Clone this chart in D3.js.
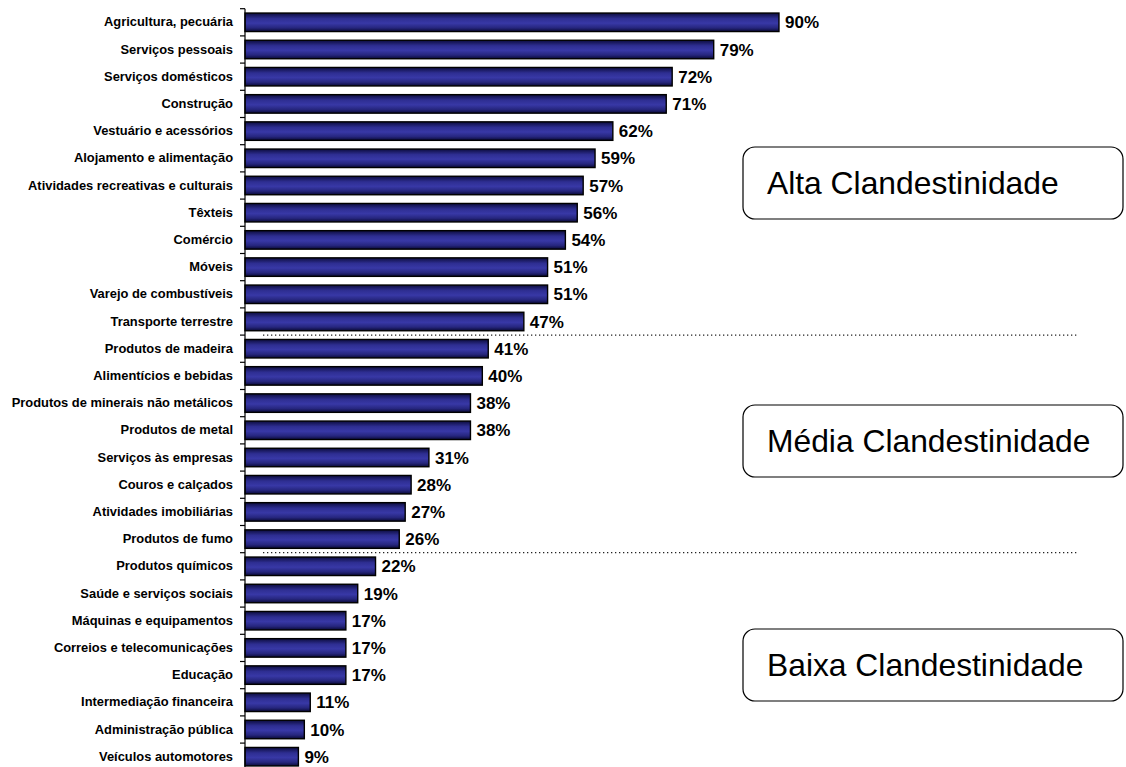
<!DOCTYPE html>
<html>
<head>
<meta charset="utf-8">
<script src="https://cdn.jsdelivr.net/npm/d3@7/dist/d3.min.js"></script>
<style>
  html, body { margin: 0; padding: 0; background: #fff; }
  svg { display: block; font-family: "Liberation Sans", Arial, Helvetica, sans-serif; }
</style>
</head>
<body>
<svg id="chart" width="1126" height="767"></svg>
<script>
// Setores e percentual de informalidade (clandestinidade)
const categories = [
  "Agricultura, pecuária",
  "Serviços pessoais",
  "Serviços domésticos",
  "Construção",
  "Vestuário e acessórios",
  "Alojamento e alimentação",
  "Atividades recreativas e culturais",
  "Têxteis",
  "Comércio",
  "Móveis",
  "Varejo de combustíveis",
  "Transporte terrestre",
  "Produtos de madeira",
  "Alimentícios e bebidas",
  "Produtos de minerais não metálicos",
  "Produtos de metal",
  "Serviços às empresas",
  "Couros e calçados",
  "Atividades imobiliárias",
  "Produtos de fumo",
  "Produtos químicos",
  "Saúde e serviços sociais",
  "Máquinas e equipamentos",
  "Correios e telecomunicações",
  "Educação",
  "Intermediação financeira",
  "Administração pública",
  "Veículos automotores"
];
const values = [90, 79, 72, 71, 62, 59, 57, 56, 54, 51, 51, 47, 41, 40, 38, 38, 31, 28, 27, 26, 22, 19, 17, 17, 17, 11, 10, 9];

// Grupos: último setor de cada faixa (a linha pontilhada fica abaixo dele)
const groupNames = ["Alta Clandestinidade", "Média Clandestinidade", "Baixa Clandestinidade"];
const groupBreaks = ["Transporte terrestre", "Produtos de fumo"];

const svg = d3.select("#chart");

const axisX = 245;
const rowStep = 27.2;
const plotTop = 8.7;

const y = d3.scaleBand()
  .domain(categories)
  .range([plotTop, plotTop + rowStep * categories.length])
  .paddingInner(0.32)
  .paddingOuter(0.16);

const x = d3.scaleLinear()
  .domain([0, 100])
  .range([axisX, axisX + 593.3]);

// Gradiente vertical das barras
const defs = svg.append("defs");
const grad = defs.append("linearGradient")
  .attr("id", "barGrad")
  .attr("x1", 0).attr("y1", 0).attr("x2", 0).attr("y2", 1);
grad.append("stop").attr("offset", "0%").attr("stop-color", "#0c0c3e");
grad.append("stop").attr("offset", "30%").attr("stop-color", "#2e2e92");
grad.append("stop").attr("offset", "55%").attr("stop-color", "#3838a6");
grad.append("stop").attr("offset", "80%").attr("stop-color", "#26267e");
grad.append("stop").attr("offset", "100%").attr("stop-color", "#0a0a36");

// Barras
svg.append("g")
  .selectAll("rect")
  .data(categories)
  .join("rect")
  .attr("x", x(0))
  .attr("y", d => y(d))
  .attr("width", (d, i) => x(values[i]) - x(0))
  .attr("height", y.bandwidth())
  .attr("fill", "url(#barGrad)")
  .attr("stroke", "#000")
  .attr("stroke-width", 1.4);

// Rótulos de valor
svg.append("g")
  .selectAll("text")
  .data(categories)
  .join("text")
  .attr("x", (d, i) => x(values[i]) + 6)
  .attr("y", d => y(d) + y.bandwidth() / 2)
  .attr("dy", "0.36em")
  .attr("font-size", "17px")
  .attr("font-weight", "bold")
  .attr("fill", "#000")
  .text((d, i) => values[i] + "%");

// Eixo vertical com rótulos das categorias
const yAxis = d3.axisLeft(y).tickSize(0).tickPadding(12);
const gAxis = svg.append("g")
  .attr("transform", `translate(${axisX},0)`)
  .call(yAxis);
gAxis.select(".domain").remove();
gAxis.selectAll("text")
  .attr("font-size", "12.9px")
  .attr("font-weight", "bold")
  .attr("fill", "#000")
  .attr("font-family", "'Liberation Sans', Arial, sans-serif");

// Linha do eixo e marcas entre categorias
const gap = y.step() * y.paddingInner() / 2;
const [r0, r1] = y.range();
svg.append("line")
  .attr("x1", axisX).attr("x2", axisX)
  .attr("y1", r0).attr("y2", r1)
  .attr("stroke", "#000").attr("stroke-width", 1.2);
const boundaries = [r0].concat(categories.map(c => y(c) + y.bandwidth() + gap));
svg.append("g")
  .selectAll("line")
  .data(boundaries)
  .join("line")
  .attr("x1", axisX - 5).attr("x2", axisX)
  .attr("y1", d => d).attr("y2", d => d)
  .attr("stroke", "#000").attr("stroke-width", 1.2);

// Linhas pontilhadas separando os grupos
svg.append("g")
  .selectAll("line")
  .data(groupBreaks)
  .join("line")
  .attr("x1", 263).attr("x2", 1078)
  .attr("y1", d => y(d) + y.bandwidth() + gap)
  .attr("y2", d => y(d) + y.bandwidth() + gap)
  .attr("stroke", "#222")
  .attr("stroke-width", 1.3)
  .attr("stroke-dasharray", "1.3,2.7");

// Caixas com o nome de cada grupo
const boxTops = [147, 405, 629];
const boxes = svg.append("g")
  .selectAll("g")
  .data(groupNames)
  .join("g");
boxes.append("rect")
  .attr("x", 743)
  .attr("y", (d, i) => boxTops[i])
  .attr("width", 380)
  .attr("height", 72)
  .attr("rx", 12)
  .attr("fill", "#fff")
  .attr("stroke", "#000")
  .attr("stroke-width", 1.2);
boxes.append("text")
  .attr("x", 767)
  .attr("y", (d, i) => boxTops[i] + 36)
  .attr("dy", "0.35em")
  .attr("font-size", "31.8px")
  .attr("fill", "#000")
  .text(d => d);
</script>
</body>
</html>
